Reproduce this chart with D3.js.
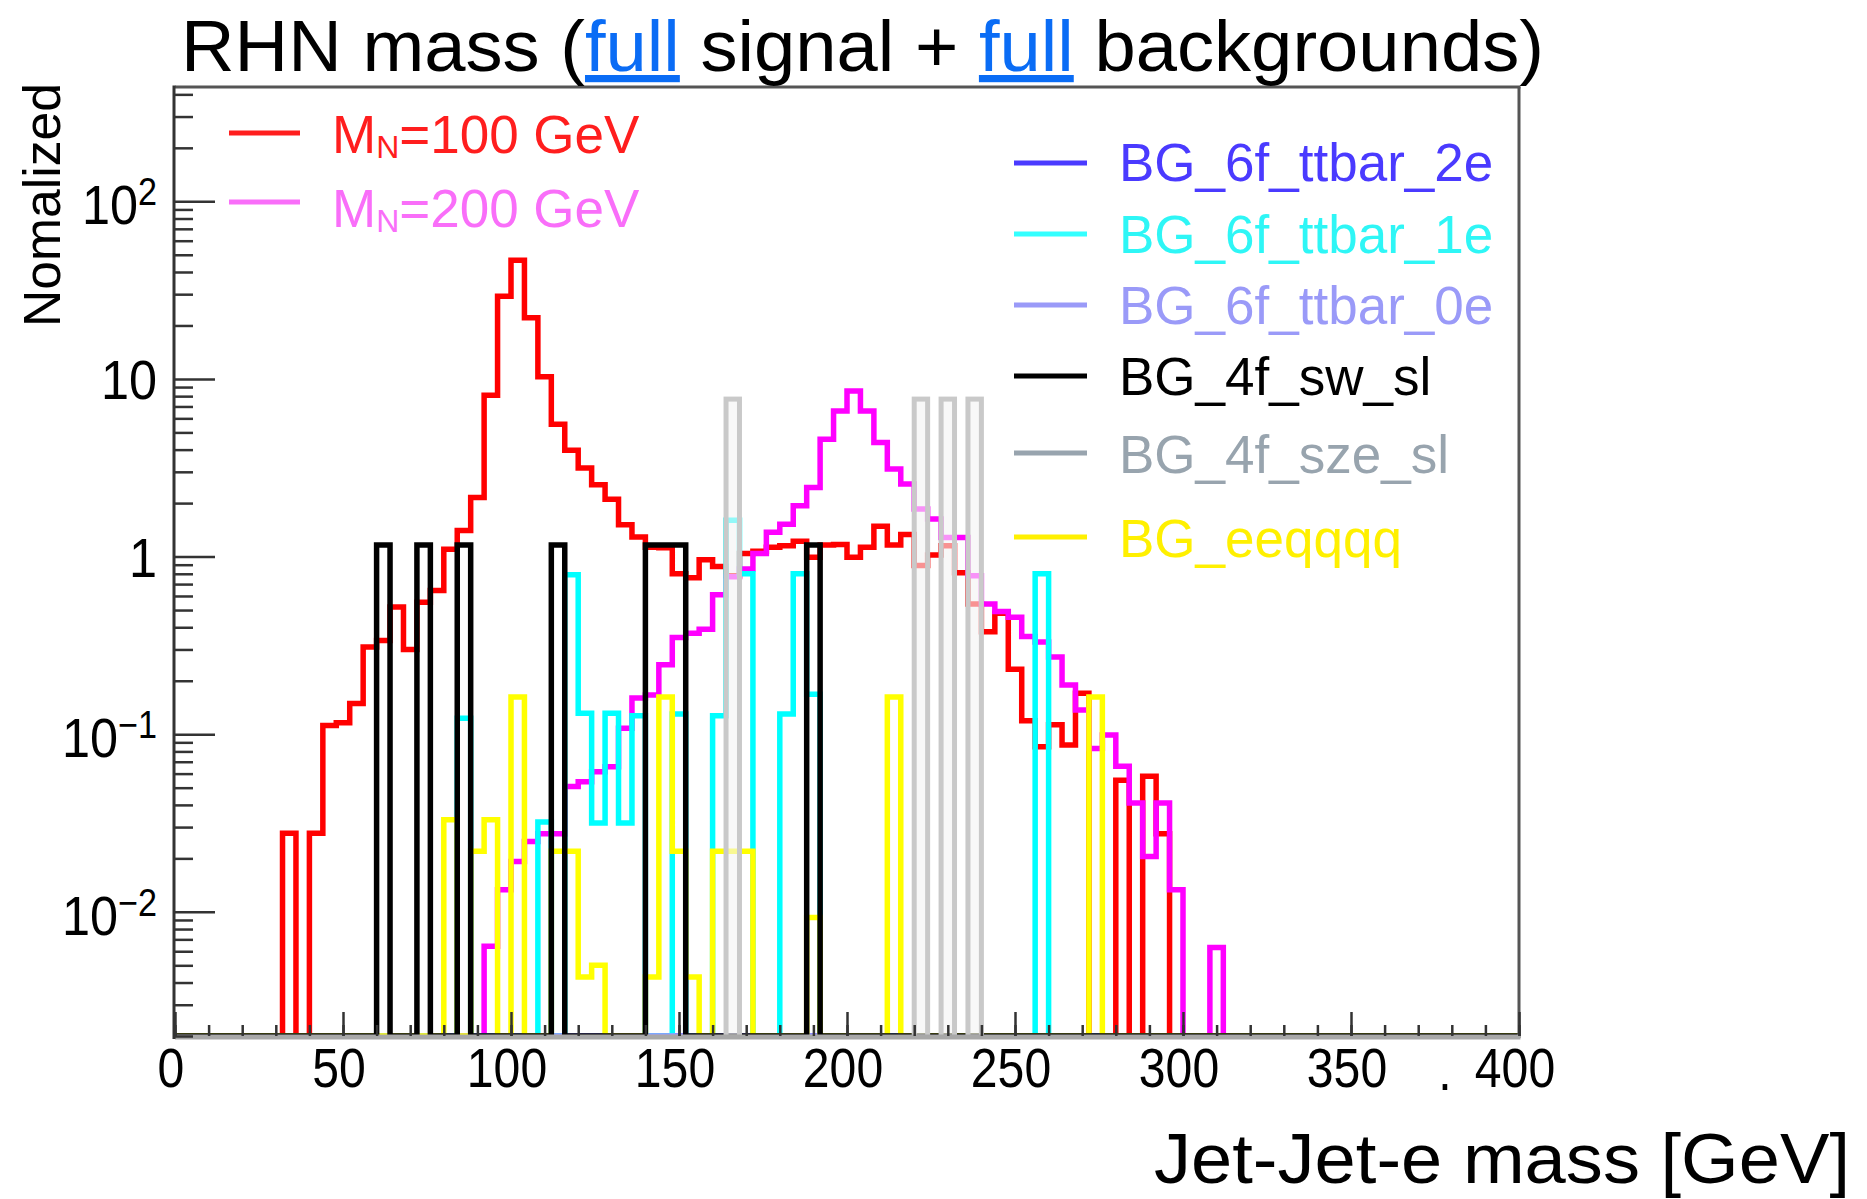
<!DOCTYPE html>
<html>
<head>
<meta charset="utf-8">
<script src="https://cdn.jsdelivr.net/npm/d3@7"></script>
<style>
  html, body { margin: 0; padding: 0; background: #ffffff; }
  svg { display: block; }
  text { font-family: "Liberation Sans", Arial, Helvetica, sans-serif; white-space: pre; }
</style>
</head>
<body>
<svg id="chart" width="1867" height="1199"></svg>
<script>
// ---- Binning: 100 bins of 4 GeV between 0 and 400 GeV ----
const xDomain = [0, 400];
const binWidthGeV = 4;
const yDomain = [0.002, 440];

// Each histogram: [bin low edge in GeV, normalized content]; bins not listed are empty.
const sigMN100 = [
  [32,0.0277],[40,0.0277],[44,0.112],[48,0.116],[52,0.149],[56,0.31],[60,0.337],[64,0.52],
  [68,0.30],[72,0.554],[76,0.644],[80,1.10],[84,1.40],[88,2.15],[92,8.09],[96,29.2],
  [100,46.5],[104,22.1],[108,10.3],[112,5.56],[116,3.97],[120,3.15],[124,2.54],[128,2.1],
  [132,1.51],[136,1.29],[140,1.13],[144,1.12],[148,0.80],[152,0.76],[156,0.96],[160,0.88],
  [164,0.78],[168,1.04],[172,1.07],[176,1.13],[180,1.15],[184,1.22],[188,0.99],[192,1.16],
  [196,1.17],[200,0.99],[204,1.13],[208,1.48],[212,1.16],[216,1.33],[220,0.89],[224,1.02],
  [228,1.15],[232,0.81],[236,0.54],[240,0.377],[244,0.48],[248,0.232],[252,0.119],[256,0.085],
  [260,0.113],[264,0.087],[268,0.170],[280,0.055],[288,0.058],[292,0.0275]
];
const sigMN200 = [
  [92,0.0064],[96,0.0133],[100,0.0192],[104,0.0249],[108,0.0275],[112,0.0275],[116,0.0507],
  [120,0.054],[124,0.0615],[128,0.0656],[132,0.108],[136,0.16],[140,0.166],[144,0.246],
  [148,0.35],[152,0.37],[156,0.39],[160,0.61],[164,0.77],[168,0.85],[172,1.04],[176,1.37],
  [180,1.52],[184,1.93],[188,2.45],[192,4.58],[196,6.6],[200,8.55],[204,6.6],[208,4.38],
  [212,3.11],[216,2.56],[220,1.85],[224,1.63],[228,1.28],[232,1.28],[236,0.78],[240,0.54],
  [244,0.49],[248,0.456],[252,0.355],[256,0.33],[260,0.272],[264,0.189],[268,0.137],
  [272,0.083],[276,0.099],[280,0.066],[284,0.041],[288,0.0205],[292,0.041],[296,0.0133],
  [308,0.0063]
];
const bg6fTtbar2e = [];
const bg6fTtbar1e = [
  [84,0.123],[108,0.032],[116,0.79],[120,0.131],[124,0.0316],[128,0.131],[132,0.0316],
  [136,0.127],[148,0.13],[160,0.127],[164,1.6],[168,0.80],[180,0.13],[184,0.80],[188,0.168],
  [256,0.80]
];
const bg6fTtbar0e = [];
const bg4fSwSl = [
  [60,1.16],[72,1.16],[84,1.16],[112,1.16],[140,1.16],[144,1.16],[148,1.16],[188,1.16]
];
const bg4fSzeSl = [
  [164,7.7],[220,7.7],[228,7.7],[236,7.7]
];
const bgEeqqqq = [
  [80,0.033],[88,0.0219],[92,0.033],[100,0.162],[112,0.0219],[116,0.0219],[120,0.0043],
  [124,0.005],[140,0.0043],[144,0.162],[148,0.0219],[152,0.0043],[160,0.0219],[164,0.0219],
  [168,0.0219],[188,0.0093],[212,0.162],[272,0.162]
];

// ---- Legend entries ----
const signalLegendMain = ["M", "M"];
const signalLegendSub = ["N", "N"];
const signalLegendRest = ["=100 GeV", "=200 GeV"];
const backgroundLegendNames = ["BG_6f_ttbar_2e", "BG_6f_ttbar_1e", "BG_6f_ttbar_0e", "BG_4f_sw_sl", "BG_4f_sze_sl", "BG_eeqqqq"];

// ---- Axis labels ----
const titleParts = ["RHN mass (", "full", " signal + ", "full", " backgrounds)"];
const titleLinked = [false, true, false, true, false];
const xAxisTitle = "Jet-Jet-e mass [GeV]";
const yAxisTitle = "Nomalized";
const xMajorTicks = [0, 50, 100, 150, 200, 250, 300, 350, 400];
const xTickLabels = ["0", "50", "100", "150", "200", "250", "300", "350", "400"];
const yMajorTicks = [0.01, 0.1, 1, 10, 100];
const yTickBase = ["10", "10", "1", "10", "10"];
const yTickExp = ["\u22122", "\u22121", "", "", "2"];

// ---- Layout ----
const frame = { left: 175, right: 1519, top: 87, bottom: 1036 };
const svg = d3.select("#chart");

const x = d3.scaleLinear().domain(xDomain).range([frame.left, frame.right]);
const y = d3.scaleLog().domain(yDomain).range([frame.bottom, frame.top]);

const lineWidth = 5.5;

// Plot draw order: signals first, then backgrounds (sze_sl last, with a light translucent fill)
const series = [
  { data: sigMN100,    stroke: "#ff0000" },
  { data: sigMN200,    stroke: "#ff00ff" },
  { data: bg6fTtbar2e, stroke: "#4a3aff" },
  { data: bg6fTtbar1e, stroke: "#00ffff" },
  { data: bg6fTtbar0e, stroke: "#9999ff" },
  { data: bgEeqqqq,    stroke: "#ffff00" },
  { data: bg4fSwSl,    stroke: "#000000" },
  { data: bg4fSzeSl,   stroke: "#c9c9c9", fill: "rgba(244,244,244,0.6)" }
];

svg.append("clipPath").attr("id", "plotClip")
  .append("rect")
  .attr("x", frame.left).attr("y", frame.top)
  .attr("width", frame.right - frame.left).attr("height", frame.bottom - frame.top);

// Outline of a histogram, ROOT style: empty bins drop to the bottom of the frame.
function outline(entries) {
  const content = new Map(entries.map(d => [d[0], d[1]]));
  const pts = [[xDomain[0], 0]];
  for (let e = xDomain[0]; e < xDomain[1]; e += binWidthGeV) {
    const v = content.get(e) || 0;
    pts.push([e, v], [e + binWidthGeV, v]);
  }
  pts.push([xDomain[1], 0]);
  return pts;
}
const yClamp = v => (v > yDomain[0] ? y(Math.min(v, yDomain[1])) : y.range()[0]);
const histLine = d3.line().x(d => x(d[0])).y(d => yClamp(d[1]));

const plot = svg.append("g").attr("clip-path", "url(#plotClip)");

series.forEach(s => {
  if (s.fill) {
    plot.append("g").selectAll("rect").data(s.data).join("rect")
      .attr("x", d => x(d[0]))
      .attr("width", d => x(d[0] + binWidthGeV) - x(d[0]))
      .attr("y", d => yClamp(d[1]))
      .attr("height", d => y.range()[0] - yClamp(d[1]) + 4)
      .attr("fill", s.fill)
      .attr("stroke", s.stroke)
      .attr("stroke-width", lineWidth - 0.5);
  } else {
    plot.append("path")
      .attr("d", histLine(outline(s.data)))
      .attr("fill", "none")
      .attr("stroke", s.stroke)
      .attr("stroke-width", lineWidth)
      .attr("stroke-linejoin", "miter");
  }
});

// ---- Frame ----
svg.append("line").attr("x1", frame.left).attr("x2", frame.right + 1.5)
  .attr("y1", frame.top).attr("y2", frame.top)
  .attr("stroke", "#555").attr("stroke-width", 3);
svg.append("line").attr("x1", frame.right).attr("x2", frame.right)
  .attr("y1", frame.top).attr("y2", frame.bottom + 2)
  .attr("stroke", "#555").attr("stroke-width", 3);
svg.append("line").attr("x1", frame.left).attr("x2", frame.right + 1.5)
  .attr("y1", frame.bottom + 1).attr("y2", frame.bottom + 1)
  .attr("stroke", "#a8a8a8").attr("stroke-width", 5);
svg.append("line").attr("x1", frame.left - 1).attr("x2", frame.left - 1)
  .attr("y1", frame.top - 1.5).attr("y2", frame.bottom + 3)
  .attr("stroke", "#333").attr("stroke-width", 3);

// ---- Axes (ticks pointing into the frame) ----
function styleTicks(g) {
  g.select(".domain").remove();
  g.selectAll(".tick line").attr("stroke", "#333").attr("stroke-width", 2.5);
}
const xMinor = d3.range(xDomain[0], xDomain[1] + 1, 10);
svg.append("g").attr("transform", `translate(0,${frame.bottom})`)
  .call(d3.axisBottom(x).tickValues(xMinor).tickSize(-11).tickFormat(""))
  .call(styleTicks);
svg.append("g").attr("transform", `translate(0,${frame.bottom})`)
  .call(d3.axisBottom(x).tickValues(xMajorTicks).tickSize(-24).tickFormat(""))
  .call(styleTicks);

const yMinor = y.ticks().filter(v => !yMajorTicks.some(m => Math.abs(m - v) / m < 1e-6));
svg.append("g").attr("transform", `translate(${frame.left - 1},0)`)
  .call(d3.axisLeft(y).tickValues(yMinor).tickSize(-19).tickFormat(""))
  .call(styleTicks);
svg.append("g").attr("transform", `translate(${frame.left - 1},0)`)
  .call(d3.axisLeft(y).tickValues(yMajorTicks).tickSize(-41).tickFormat(""))
  .call(styleTicks);

// x tick labels
const xLab = svg.append("g").attr("font-size", 56).attr("fill", "#000");
xMajorTicks.forEach((v, i) => {
  xLab.append("text")
    .attr("transform", `translate(${x(v) - 4},1087) scale(0.86,1)`)
    .attr("text-anchor", "middle")
    .text(xTickLabels[i]);
});
xLab.append("text")
  .attr("transform", `translate(${x(400) - 74},1090) scale(0.86,1)`)
  .attr("text-anchor", "middle")
  .text(".");

// y tick labels
const yLab = svg.append("g").attr("font-size", 56).attr("fill", "#000");
yMajorTicks.forEach((v, i) => {
  const hasExp = yTickExp[i] !== "";
  const t = yLab.append("text")
    .attr("transform", `translate(157,${y(v) + (hasExp ? 23 : 20)}) scale(0.9,1)`)
    .attr("text-anchor", "end");
  t.append("tspan").text(yTickBase[i]);
  if (hasExp) {
    t.append("tspan").attr("font-size", 38).attr("dy", -19).text(yTickExp[i]);
  }
});

// ---- Titles ----
const title = svg.append("text")
  .attr("x", 181).attr("y", 71)
  .attr("font-size", 72)
  .attr("textLength", 1363).attr("lengthAdjust", "spacingAndGlyphs");
titleParts.forEach((p, i) => {
  const ts = title.append("tspan").text(p).attr("fill", titleLinked[i] ? "#0a6cf5" : "#000");
  if (titleLinked[i]) ts.style("text-decoration", "underline");
});

svg.append("text")
  .attr("x", 1154).attr("y", 1183)
  .attr("font-size", 70)
  .attr("textLength", 696).attr("lengthAdjust", "spacingAndGlyphs")
  .attr("fill", "#000")
  .text(xAxisTitle);

svg.append("text")
  .attr("transform", "translate(60,327) rotate(-90)")
  .attr("font-size", 52)
  .attr("textLength", 244).attr("lengthAdjust", "spacingAndGlyphs")
  .attr("fill", "#000")
  .text(yAxisTitle);

// ---- Legends ----
const signalLegendColors = ["#ff1e1e", "#f96ef9"];
const signalRowsY = [133, 202];
const signalTextY = [153, 227];
signalLegendMain.forEach((m, i) => {
  svg.append("line")
    .attr("x1", 229).attr("x2", 300)
    .attr("y1", signalRowsY[i]).attr("y2", signalRowsY[i])
    .attr("stroke", signalLegendColors[i]).attr("stroke-width", 5);
  const t = svg.append("text")
    .attr("x", 332).attr("y", signalTextY[i])
    .attr("font-size", 53).attr("fill", signalLegendColors[i]);
  t.append("tspan").text(m);
  t.append("tspan").attr("font-size", 32).attr("dy", 5).text(signalLegendSub[i]);
  t.append("tspan").attr("dy", -5).text(signalLegendRest[i]);
});

const bgLineColors = ["#4a3aff", "#33ffff", "#9a9af8", "#000000", "#98a4ae", "#fff000"];
const bgTextColors = ["#4a3aff", "#2ef6f6", "#9a9af8", "#000000", "#98a4ae", "#fff000"];
const bgRowsY = [163, 234, 305, 376, 453, 537];
const bgTextY = [181, 253, 324, 395, 473, 557];
backgroundLegendNames.forEach((name, i) => {
  svg.append("line")
    .attr("x1", 1014).attr("x2", 1087)
    .attr("y1", bgRowsY[i]).attr("y2", bgRowsY[i])
    .attr("stroke", bgLineColors[i]).attr("stroke-width", 5);
  svg.append("text")
    .attr("x", 1119).attr("y", bgTextY[i])
    .attr("font-size", 53).attr("fill", bgTextColors[i])
    .text(name);
});
</script>
</body>
</html>
